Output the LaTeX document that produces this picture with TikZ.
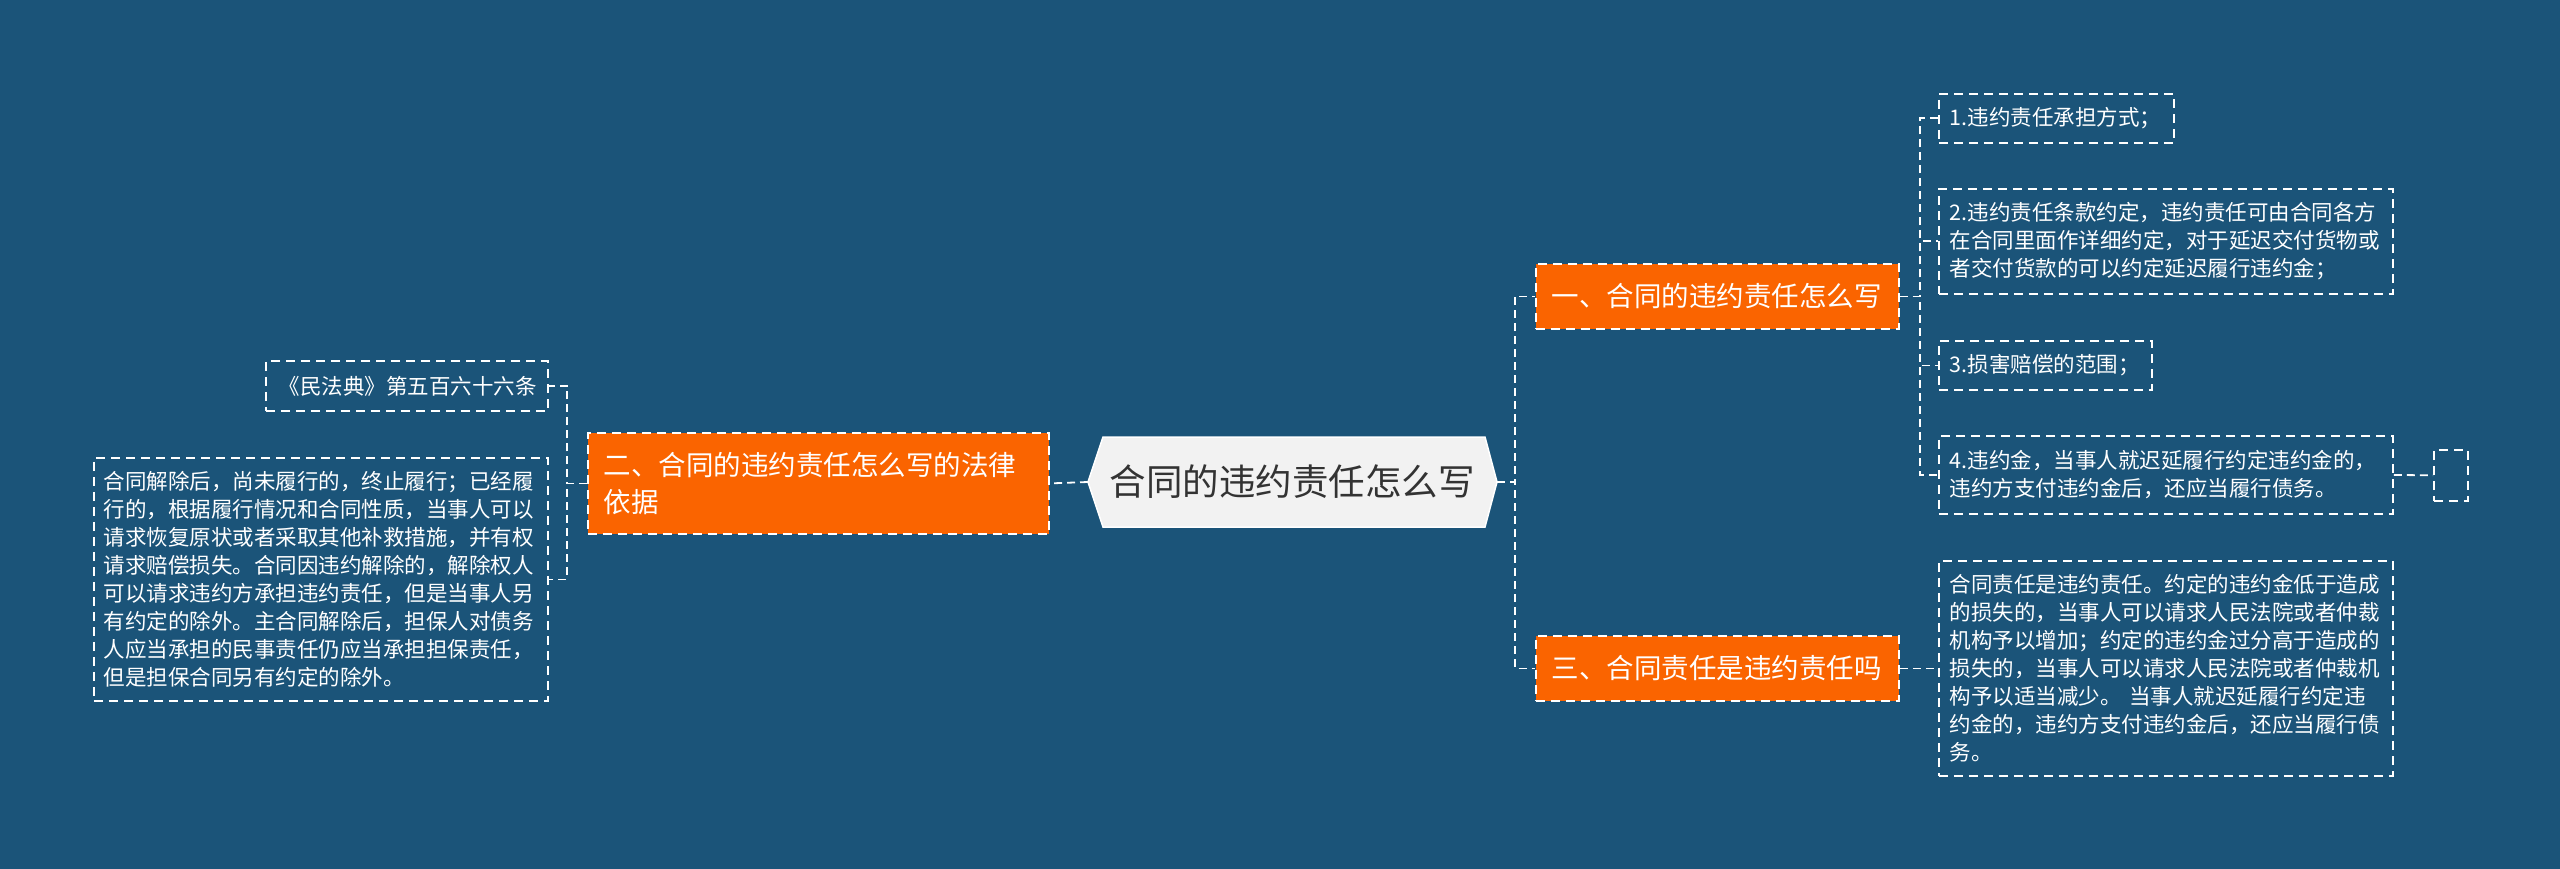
\documentclass[tikz,border=0pt]{standalone}
\usepackage{fontspec}
\newfontfamily\cjk{Noto Sans CJK SC}
\definecolor{bgc}{RGB}{27,84,121}
\definecolor{orc}{RGB}{250,100,0}
\definecolor{rootfill}{RGB}{242,242,242}
\definecolor{roottext}{RGB}{51,51,51}
\begin{document}
\begin{tikzpicture}[x=1pt,y=-1pt,
 link/.style={draw=white, line width=1.8pt, dash pattern=on 8pt off 5pt},
 box/.style={draw=white, line width=1.8pt, dash pattern=on 9pt off 6pt, anchor=north west, rectangle, inner ysep=0pt},
 leaf/.style={box, text=white, font=\cjk\fontsize{21.5}{28}\selectfont, align=left, inner xsep=11pt},
 topic/.style={box, fill=orc, text=white, font=\cjk\fontsize{27.5}{37}\selectfont, align=left, inner xsep=16pt},
 rootnode/.style={rectangle, inner sep=0pt, minimum width=382pt, minimum height=90pt, text=roottext, font=\cjk\fontsize{36.5}{44}\selectfont},
]
\useasboundingbox (0,0) rectangle (2560,869);
\fill[bgc] (0,0) rectangle (2560,869);

% root hexagon
\fill[rootfill, draw=white, line width=1.5pt] (1103,437) -- (1485,437) -- (1497,482) -- (1485,527) -- (1103,527) -- (1088,482) -- cycle;
\node[rootnode] (root) at (1292,482) {合同的违约责任怎么写};
\coordinate (rootW) at (1088,482);
\coordinate (rootE) at (1497,482);

% topics
\node[topic, text width=429pt, minimum width=461pt, minimum height=101pt] (n2) at (587,432) {二、合同的违约责任怎么写的法律\\依据};
\node[topic, text width=331pt, minimum width=363pt, minimum height=65pt] (n1) at (1535,263) {一、合同的违约责任怎么写};
\node[topic, text width=331pt, minimum width=363pt, minimum height=65pt] (n3) at (1535,635) {三、合同责任是违约责任吗};

% left leaves
\node[leaf, text width=260pt, minimum width=282pt, minimum height=50pt, align=right] (L1) at (265,360) {《民法典》第五百六十六条};
\node[leaf, text width=434pt, inner xsep=10pt, minimum width=454pt, minimum height=243pt] (L2) at (93,457) {合同解除后，尚未履行的，终止履行；已经履\\行的，根据履行情况和合同性质，当事人可以\\请求恢复原状或者采取其他补救措施，并有权\\请求赔偿损失。合同因违约解除的，解除权人\\可以请求违约方承担违约责任，但是当事人另\\有约定的除外。主合同解除后，担保人对债务\\人应当承担的民事责任仍应当承担担保责任，\\但是担保合同另有约定的除外。};

% right leaves
\node[leaf, text width=213pt, minimum width=235pt, minimum height=49pt] (R1) at (1938,93) {1.违约责任承担方式；};
\node[leaf, text width=432pt, minimum width=454pt, minimum height=105pt] (R2) at (1938,188) {2.违约责任条款约定，违约责任可由合同各方\\在合同里面作详细约定，对于延迟交付货物或\\者交付货款的可以约定延迟履行违约金；};
\node[leaf, text width=191pt, minimum width=213pt, minimum height=49pt] (R3) at (1938,340) {3.损害赔偿的范围；};
\node[leaf, text width=432pt, minimum width=454pt, minimum height=78pt] (R4) at (1938,435) {4.违约金，当事人就迟延履行约定违约金的，\\违约方支付违约金后，还应当履行债务。};
\node[box, minimum width=34pt, minimum height=51pt, inner sep=0pt] (R4b) at (2433,449) {};
\node[leaf, text width=432pt, minimum width=454pt, minimum height=215pt] (R5) at (1938,560) {合同责任是违约责任。约定的违约金低于造成\\的损失的，当事人可以请求人民法院或者仲裁\\机构予以增加；约定的违约金过分高于造成的\\损失的，当事人可以请求人民法院或者仲裁机\\构予以适当减少。 当事人就迟延履行约定违\\约金的，违约方支付违约金后，还应当履行债\\务。};

% connectors
\draw[link] (rootW) -- (n2.east);
\draw[link] (n2.west) -- ++(-20,0) |- (L1.east);
\draw[link] (n2.west) -- ++(-20,0) |- (L2.east);
\draw[link] (rootE) -- ++(18,0) |- (n1.west);
\draw[link] (rootE) -- ++(18,0) |- (n3.west);
\draw[link] (n1.east) -- ++(20,0) |- (R1.west);
\draw[link] (n1.east) -- ++(20,0) |- (R2.west);
\draw[link] (n1.east) -- ++(20,0) |- (R3.west);
\draw[link] (n1.east) -- ++(20,0) |- (R4.west);
\draw[link] (n3.east) -- (R5.west);
\draw[link] (R4.east) -- (R4b.west);
\end{tikzpicture}
\end{document}
